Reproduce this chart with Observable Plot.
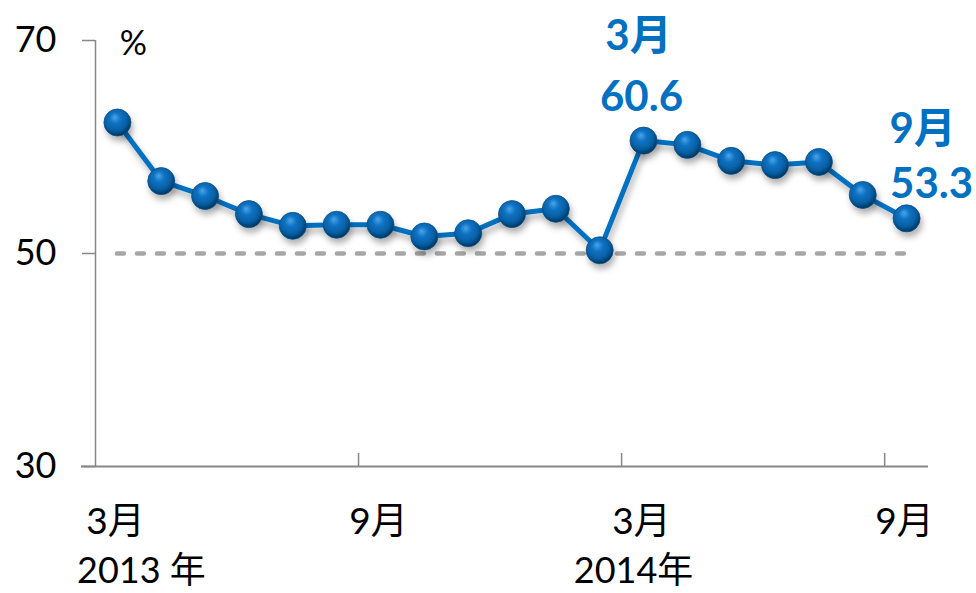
<!DOCTYPE html>
<html>
<head>
<meta charset="utf-8">
<script src="https://cdn.jsdelivr.net/npm/d3@7"></script>
<script src="https://cdn.jsdelivr.net/npm/@observablehq/plot@0.6"></script>
<style>
  html, body { margin: 0; padding: 0; background: #fff; }
  #chart svg { display: block; }
</style>
</head>
<body>
<div id="chart"></div>
<script>
// ---- data ----
const months = ["2013-03","2013-04","2013-05","2013-06","2013-07","2013-08","2013-09","2013-10","2013-11","2013-12",
                "2014-01","2014-02","2014-03","2014-04","2014-05","2014-06","2014-07","2014-08","2014-09"];
const values = [62.3, 56.8, 55.4, 53.7, 52.6, 52.7, 52.7, 51.6, 51.9, 53.7,
                54.2, 50.3, 60.6, 60.2, 58.7, 58.3, 58.6, 55.5, 53.3];
const monthTickIdx = [0, 6, 12, 18];
const monthTickLabels = ["3月", "9月", "3月", "9月"];
const yearIdx = [0, 12];
const yearLabels = ["2013 年", "2014年"];
const boundaryIdx = [5.5, 11.5, 17.5];
const yTicks = [30, 50, 70];
const refValue = 50;
const unitLabel = "%";
const annotations = [
  {i: 12, line1: "3月", line2: "60.6"},
  {i: 18, line1: "9月", line2: "53.3"}
];

const data = months.map((m, i) => ({i, m, v: values[i]}));
const years = yearIdx.map((i, k) => ({i, label: yearLabels[k]}));
const blue = "#0070C0";
const grey = "#878787";
const font = "Lato, 'Noto Sans CJK SC', sans-serif";

const chart = Plot.plot({
  width: 976,
  height: 593,
  marginLeft: 95,
  marginRight: 48,
  marginTop: 40,
  marginBottom: 127,
  style: {fontFamily: font, background: "#fff", color: "#000"},
  x: {type: "linear", domain: [-0.5, 18.5], axis: null},
  y: {domain: [30, 70], axis: null},
  marks: [
    // y axis
    Plot.axisY({ticks: yTicks, label: null, tickSize: 13, tickPadding: 26, fontSize: 36, stroke: grey, strokeWidth: 1.5, color: "#000", tickFormat: d => d}),
    Plot.ruleX([-0.5], {stroke: grey, strokeWidth: 1.5}),
    Plot.ruleY([30], {stroke: grey, strokeWidth: 2, insetLeft: -14}),
    // x boundary ticks (upward)
    Plot.tickX(boundaryIdx, {x: d => d, stroke: grey, strokeWidth: 1.5, insetTop: 426 - 13}),
    // month labels
    Plot.text(monthTickIdx, {x: d => d, y: () => 30, text: (d, k) => monthTickLabels[k], fontSize: 37, dy: 56, dx: -2, lineAnchor: "middle", fill: "#000"}),
    Plot.text(years.slice(0, 1), {x: "i", y: () => 30, text: "label", fontSize: 36, dy: 105, dx: 24, lineAnchor: "middle", fill: "#000"}),
    Plot.text(years.slice(1), {x: "i", y: () => 30, text: "label", fontSize: 36, dy: 105, dx: -10, lineAnchor: "middle", fill: "#000"}),
    // unit
    Plot.text([unitLabel], {x: () => 0, y: () => 70, text: d => d, fontSize: 34, dx: 16, dy: 4, lineAnchor: "middle", fill: "#000"}),
    // reference line
    Plot.ruleY([refValue], {x1: 0, x2: 18, stroke: "#A6A6A6", strokeWidth: 4.5, strokeDasharray: "7,13", strokeLinecap: "round"}),
    // series
    Plot.line(data, {x: "i", y: "v", stroke: blue, strokeWidth: 5, strokeLinejoin: "round"}),
    Plot.dot(data, {x: "i", y: "v", r: 13.5, fill: "url(#ball)", stroke: "#0a4f86", strokeWidth: 0.8}),
    // annotations
    Plot.text(annotations.slice(0, 1), {x: "i", y: a => values[a.i], text: "line1", fontSize: 42, fontWeight: "bold", fill: blue, dy: -104, dx: -5, lineAnchor: "middle"}),
    Plot.text(annotations.slice(0, 1), {x: "i", y: a => values[a.i], text: "line2", fontSize: 42, fontWeight: "bold", fill: blue, dy: -43, dx: -2, lineAnchor: "middle"}),
    Plot.text(annotations.slice(1), {x: "i", y: a => values[a.i], text: "line1", fontSize: 42, fontWeight: "bold", fill: blue, dy: -89, dx: 16, lineAnchor: "middle"}),
    Plot.text(annotations.slice(1), {x: "i", y: a => values[a.i], text: "line2", fontSize: 42, fontWeight: "bold", fill: blue, dy: -34, dx: 25, lineAnchor: "middle"})
  ]
});

// gradient + shadow defs
const svg = d3.select(chart);
const defs = svg.insert("defs", ":first-child");
const g = defs.append("radialGradient").attr("id", "ball").attr("cx", "45%").attr("cy", "40%").attr("r", "60%").attr("fx", "40%").attr("fy", "30%");
g.append("stop").attr("offset", "0%").attr("stop-color", "#4fa3e6");
g.append("stop").attr("offset", "35%").attr("stop-color", "#0a72c4");
g.append("stop").attr("offset", "75%").attr("stop-color", "#065c9e");
g.append("stop").attr("offset", "100%").attr("stop-color", "#02325a");
const f = defs.append("filter").attr("id", "shadow").attr("x", "-20%").attr("y", "-20%").attr("width", "140%").attr("height", "160%");
f.append("feDropShadow").attr("dx", 2).attr("dy", 5).attr("stdDeviation", 3).attr("flood-color", "#000").attr("flood-opacity", 0.3);
svg.selectAll("g[aria-label='line'], g[aria-label='dot']").attr("filter", "url(#shadow)");

document.getElementById("chart").appendChild(chart);
</script>
</body>
</html>
